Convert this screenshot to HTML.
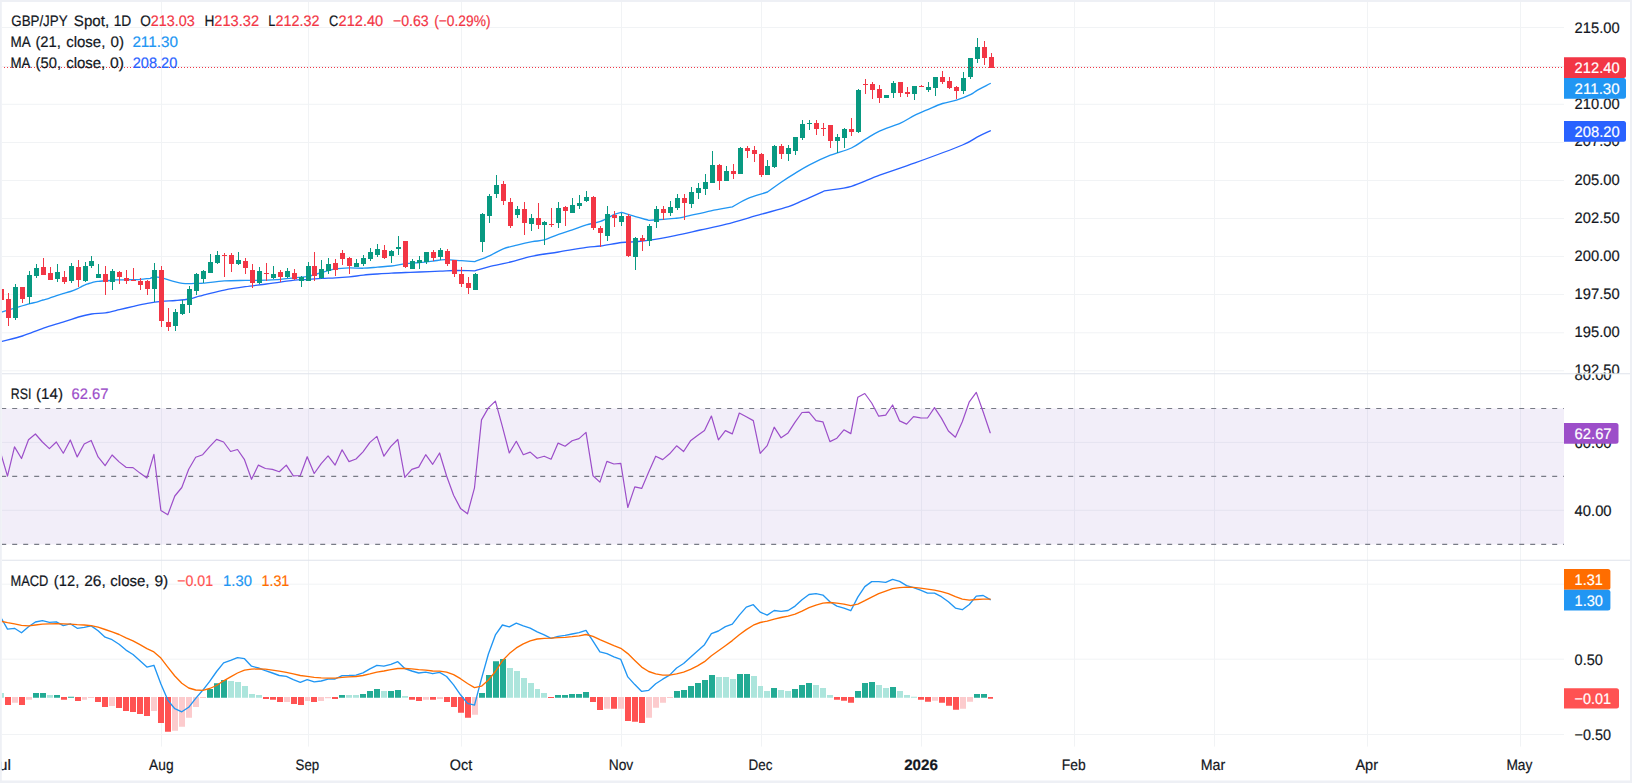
<!DOCTYPE html>
<html lang="en">
<head>
<meta charset="utf-8">
<title>GBP/JPY Spot, 1D</title>
<style>
html,body{margin:0;padding:0;background:#ffffff;}
body{width:1632px;height:783px;overflow:hidden;}
svg{display:block;}
</style>
</head>
<body>
<svg width="1632" height="783" viewBox="0 0 1632 783" font-family='"Liberation Sans", Arial, sans-serif' font-size="15.2" text-rendering="geometricPrecision">
<rect x="0" y="0" width="1632" height="783" fill="#ffffff"/>
<path d="M161.5 2V746.6M308.5 2V746.6M461.5 2V746.6M621.5 2V746.6M761.5 2V746.6M921.5 2V746.6M1074.5 2V746.6M1214.5 2V746.6M1367.5 2V746.6M1520.5 2V746.6M2 27.5H1564M2 66.5H1564M2 104.3H1564M2 142.5H1564M2 180.5H1564M2 218.5H1564M2 256.5H1564M2 294.5H1564M2 332.8H1564M2 370.8H1564M2 442.4H1564M2 510.3H1564M2 584.2H1564M2 659.2H1564M2 734.5H1564" stroke="#f1f3f5" stroke-width="1" fill="none"/>
<rect x="2" y="408.5" width="1562" height="135.89999999999998" fill="#7e57c2" fill-opacity="0.1"/>
<path d="M2 408.5H1564" stroke="#787b86" stroke-width="1.1" stroke-dasharray="5 6" stroke-dashoffset="0.8" fill="none"/>
<path d="M2 476.4H1564" stroke="#787b86" stroke-width="1.1" stroke-dasharray="5 6" stroke-dashoffset="0.8" fill="none"/>
<path d="M2 544.4H1564" stroke="#787b86" stroke-width="1.1" stroke-dasharray="5 6" stroke-dashoffset="0.8" fill="none"/>
<path d="M2 373.8H1630M2 560.3H1630" stroke="#e0e3eb" stroke-width="1.1" fill="none"/>
<defs><clipPath id="cm"><rect x="1.75" y="1.75" width="1562.25" height="371.5"/></clipPath><clipPath id="cr"><rect x="1.75" y="374.4" width="1562.25" height="185.4"/></clipPath><clipPath id="cd"><rect x="1.75" y="560.9" width="1562.25" height="186"/></clipPath><clipPath id="am"><rect x="1564" y="1.75" width="66" height="371.5"/></clipPath><clipPath id="ar"><rect x="1564" y="374.4" width="66" height="185.4"/></clipPath><clipPath id="ad"><rect x="1564" y="560.9" width="66" height="186"/></clipPath></defs>
<g clip-path="url(#cm)">
<path d="M0.0 312.7C2.7 311.9 5.0 311.1 8.0 310.2C11.0 309.3 14.4 308.2 18.0 307.1C21.6 306.0 26.8 304.4 29.9 303.6C33.0 302.8 34.6 302.7 36.8 302.1C39.0 301.5 40.9 300.6 42.9 300.0C44.9 299.4 46.8 299.0 49.0 298.3C51.2 297.6 53.6 296.6 55.9 295.8C58.2 295.0 60.4 294.4 62.8 293.7C65.2 293.0 68.2 292.3 70.5 291.5C72.8 290.7 74.8 289.9 76.6 289.1C78.4 288.3 79.8 287.5 81.2 286.8C82.6 286.1 83.8 285.4 85.1 284.9C86.4 284.3 87.8 283.9 88.9 283.5C90.1 283.1 90.8 282.9 92.0 282.6C93.2 282.3 94.6 281.8 95.8 281.6C97.0 281.4 97.8 281.4 98.9 281.3C100.1 281.2 100.8 281.1 102.7 281.0C104.6 280.9 108.3 280.7 110.3 280.5C112.3 280.3 112.2 280.0 114.9 279.9C117.6 279.8 122.2 279.9 126.4 279.8C130.7 279.7 136.4 279.6 140.4 279.3C144.4 279.1 146.9 278.6 150.2 278.3C151.6 277.8 153.1 277.2 154.5 276.7C156.8 277.1 159.1 277.3 161.4 277.8C163.7 278.3 166.1 279.1 168.4 279.8C170.8 280.5 173.2 281.2 175.5 281.8C177.8 282.4 180.1 283.0 182.4 283.3C184.7 283.6 187.1 283.6 189.4 283.6C191.8 283.6 194.2 283.4 196.5 283.3C198.8 283.2 198.7 283.6 203.3 283.2C207.9 282.8 217.3 281.4 224.3 280.9C231.3 280.4 238.3 280.5 245.3 280.4C252.3 280.3 260.5 280.3 266.3 280.1C272.1 279.9 275.7 279.8 280.4 279.4C285.1 279.0 289.8 278.3 294.4 277.8C299.0 277.3 303.8 277.2 308.3 276.3C312.8 275.4 317.0 273.7 321.5 272.5C326.0 271.3 330.7 269.7 335.4 268.9C340.1 268.1 344.8 268.0 349.5 267.9C354.2 267.8 358.9 268.3 363.5 268.2C368.1 268.1 372.8 267.5 377.4 267.1C382.0 266.7 386.7 266.6 391.4 266.0C396.1 265.4 400.8 264.3 405.5 263.7C410.2 263.1 414.8 262.9 419.4 262.5C424.0 262.1 429.1 261.5 433.4 261.0C437.6 260.5 440.2 259.8 444.9 259.7C449.6 259.6 456.5 260.4 461.5 260.7C466.5 261.0 470.4 261.3 474.8 261.6C479.7 259.7 484.7 257.9 489.4 255.8C494.1 253.7 498.6 250.7 503.2 248.9C507.8 247.1 512.1 246.3 517.0 245.1C521.9 243.9 527.7 242.6 532.3 241.7C536.9 240.8 540.0 241.1 544.4 239.9C548.8 238.7 553.8 236.1 558.5 234.4C563.2 232.7 567.8 231.4 572.4 229.8C577.0 228.2 581.7 226.3 586.4 224.9C591.1 223.5 595.8 223.1 600.5 221.3C605.2 219.6 610.9 215.9 614.4 214.4C617.9 212.9 619.1 213.0 621.5 212.3C626.1 213.8 630.9 215.4 635.4 216.7C639.9 218.0 644.3 219.1 648.8 220.3C653.7 220.0 659.1 219.6 663.5 219.3C667.9 219.0 671.5 218.8 675.0 218.4C678.5 218.0 678.5 218.1 684.5 216.8C690.5 215.5 703.0 212.5 711.0 210.8C719.0 209.2 725.3 208.2 732.4 206.9C737.4 204.1 741.6 201.1 747.5 198.6C753.4 196.1 760.8 194.2 767.5 192.0C772.2 188.7 776.9 185.2 781.5 182.0C786.1 178.8 790.7 175.9 795.4 173.1C800.1 170.2 803.7 167.9 809.5 164.9C815.3 161.9 823.4 158.0 830.4 155.2C837.4 152.4 845.5 150.7 851.4 148.0C857.3 145.3 860.9 142.0 865.6 139.2C870.3 136.4 873.7 133.8 879.5 131.1C885.3 128.4 894.7 125.7 900.5 123.1C906.3 120.5 909.9 117.7 914.5 115.4C919.1 113.1 923.7 111.3 928.4 109.3C933.1 107.3 937.8 105.0 942.5 103.5C947.2 102.0 951.9 101.6 956.5 100.1C961.1 98.6 966.9 96.4 970.4 94.7C973.9 93.0 974.2 92.0 977.5 90.1C980.8 88.2 986.0 85.7 990.3 83.5" stroke="#2196f3" stroke-width="1.35" fill="none" stroke-linejoin="round" stroke-linecap="round"/>
<path d="M0.0 341.9C7.5 339.9 15.1 338.3 22.4 336.0C29.6 333.7 36.5 330.5 43.5 328.1C50.5 325.7 58.6 323.5 64.4 321.6C70.2 319.8 74.0 318.3 78.5 317.0C83.0 315.7 87.0 314.7 91.5 314.0C96.0 313.3 100.8 313.5 105.4 312.8C110.1 312.1 114.7 310.8 119.4 309.7C124.1 308.6 128.8 307.4 133.5 306.3C138.2 305.2 142.8 304.1 147.4 303.3C152.1 302.5 156.7 301.8 161.4 301.3C166.1 300.8 170.8 300.9 175.5 300.5C180.2 300.1 185.5 299.7 189.4 299.0C193.3 298.3 196.5 296.9 199.2 296.2C201.8 295.5 201.1 295.7 205.3 294.7C209.5 293.7 217.6 291.4 224.3 290.1C231.0 288.8 238.3 287.7 245.3 286.7C252.3 285.7 260.5 284.8 266.3 284.0C272.1 283.2 275.7 282.8 280.4 282.1C285.1 281.5 289.8 280.6 294.4 280.1C299.0 279.7 303.8 279.7 308.3 279.4C312.8 279.1 317.0 278.7 321.5 278.4C326.0 278.1 330.7 278.1 335.4 277.8C340.1 277.6 344.8 277.3 349.5 276.9C354.2 276.4 358.9 275.6 363.5 275.1C368.1 274.6 372.8 274.3 377.4 274.0C382.0 273.7 386.7 273.4 391.4 273.2C396.1 272.9 400.8 272.7 405.5 272.5C410.2 272.3 413.6 272.2 419.4 272.0C425.1 271.8 434.2 271.4 440.0 271.1C445.8 270.9 448.6 270.6 454.4 270.5C460.2 270.4 468.0 270.7 474.8 270.8C479.7 269.4 483.5 268.1 489.4 266.6C495.3 265.1 503.4 263.7 510.4 262.0C517.4 260.3 523.4 258.0 531.4 256.3C539.4 254.6 549.3 253.5 558.5 252.0C567.7 250.5 579.4 248.4 586.4 247.4C593.4 246.4 594.6 246.8 600.5 246.0C606.4 245.2 615.7 243.2 621.5 242.5C627.3 241.8 630.7 242.1 635.4 241.7C640.1 241.3 642.9 241.2 649.5 240.2C656.1 239.2 666.5 237.3 675.0 235.6C683.5 233.9 691.7 231.9 700.2 230.0C708.8 228.1 716.1 226.8 726.3 224.2C736.5 221.6 751.0 217.1 761.4 214.2C771.8 211.3 781.6 208.8 788.5 206.6C795.4 204.3 796.5 203.3 802.5 200.7C808.5 198.1 817.1 194.2 824.4 190.9C833.4 189.4 842.2 188.9 851.4 186.3C860.6 183.7 869.0 179.0 879.6 175.1C890.2 171.2 901.2 167.9 915.0 162.9C928.8 157.9 952.1 149.3 962.5 145.0C972.9 140.7 972.9 139.3 977.5 136.9C982.1 134.5 986.0 132.8 990.3 130.8" stroke="#2962ff" stroke-width="1.35" fill="none" stroke-linejoin="round" stroke-linecap="round"/>
<path d="M15 284h1V320h-1zM29 271h1V304h-1zM36 264h1V278h-1zM57 264h1V282h-1zM71 263h1V283h-1zM85 262h1V282h-1zM91 256h1V268h-1zM98 264h1V278h-1zM112 269h1V290h-1zM154 263h1V302h-1zM175 309h1V331h-1zM182 300h1V315h-1zM189 286h1V313h-1zM196 273h1V295h-1zM203 270h1V283h-1zM210 254h1V273h-1zM217 251h1V264h-1zM238 252h1V265h-1zM259 267h1V284h-1zM273 266h1V279h-1zM287 268h1V278h-1zM301 276h1V287h-1zM308 262h1V281h-1zM321 260h1V279h-1zM328 258h1V274h-1zM356 259h1V267h-1zM363 255h1V266h-1zM370 248h1V261h-1zM377 244h1V257h-1zM391 250h1V263h-1zM398 236h1V255h-1zM412 259h1V269h-1zM419 256h1V269h-1zM426 252h1V264h-1zM440 248h1V260h-1zM475 273h1V290h-1zM482 213h1V252h-1zM489 194h1V223h-1zM496 175h1V198h-1zM517 206h1V218h-1zM531 214h1V231h-1zM544 221h1V245h-1zM558 202h1V228h-1zM572 198h1V213h-1zM579 195h1V209h-1zM586 191h1V202h-1zM607 206h1V241h-1zM621 213h1V226h-1zM635 237h1V270h-1zM649 224h1V246h-1zM656 206h1V228h-1zM670 201h1V216h-1zM677 194h1V210h-1zM691 187h1V208h-1zM698 183h1V199h-1zM705 174h1V195h-1zM712 151h1V183h-1zM726 166h1V181h-1zM740 147h1V174h-1zM767 160h1V175h-1zM774 145h1V168h-1zM788 145h1V161h-1zM795 137h1V155h-1zM802 120h1V140h-1zM809 120h1V130h-1zM837 134h1V153h-1zM844 128h1V148h-1zM858 89h1V133h-1zM886 95h1V98h-1zM893 81h1V98h-1zM914 86h1V100h-1zM928 82h1V92h-1zM935 77h1V96h-1zM963 72h1V94h-1zM970 58h1V79h-1zM977 38h1V63h-1zM13 287h5V318h-5zM27 275h5V297h-5zM34 268h5V276h-5zM55 272h5V279h-5zM69 266h5V281h-5zM83 266h5V281h-5zM89 261h5V266h-5zM96 274h5V278h-5zM110 271h5V282h-5zM152 270h5V289h-5zM173 312h5V326h-5zM180 304h5V314h-5zM187 289h5V305h-5zM194 274h5V291h-5zM201 271h5V279h-5zM208 262h5V273h-5zM215 255h5V263h-5zM236 260h5V264h-5zM257 271h5V283h-5zM271 274h5V278h-5zM285 271h5V277h-5zM299 277h5V281h-5zM306 266h5V281h-5zM319 269h5V278h-5zM326 264h5V271h-5zM354 263h5V267h-5zM361 258h5V264h-5zM368 252h5V259h-5zM375 249h5V255h-5zM389 251h5V256h-5zM396 247h5V249h-5zM410 261h5V269h-5zM417 260h5V263h-5zM424 252h5V262h-5zM438 250h5V257h-5zM473 274h5V290h-5zM480 214h5V242h-5zM487 196h5V216h-5zM494 185h5V194h-5zM515 209h5V215h-5zM529 218h5V224h-5zM542 222h5V225h-5zM556 208h5V223h-5zM570 205h5V213h-5zM577 203h5V206h-5zM584 197h5V201h-5zM605 214h5V236h-5zM619 216h5V222h-5zM633 238h5V257h-5zM647 226h5V241h-5zM654 209h5V222h-5zM668 207h5V213h-5zM675 198h5V208h-5zM689 192h5V204h-5zM696 188h5V193h-5zM703 182h5V189h-5zM710 165h5V183h-5zM724 171h5V181h-5zM738 148h5V174h-5zM765 166h5V175h-5zM772 146h5V167h-5zM786 148h5V154h-5zM793 137h5V151h-5zM800 124h5V138h-5zM807 123h5V124h-5zM835 137h5V141h-5zM842 129h5V138h-5zM856 90h5V132h-5zM884 95h5V98h-5zM891 83h5V93h-5zM912 86h5V94h-5zM926 87h5V90h-5zM933 77h5V88h-5zM961 78h5V91h-5zM968 58h5V77h-5zM975 47h5V59h-5z" fill="#089981" shape-rendering="crispEdges"/>
<path d="M1 289h1V312h-1zM8 293h1V326h-1zM22 287h1V303h-1zM43 258h1V275h-1zM50 267h1V280h-1zM64 271h1V284h-1zM78 260h1V287h-1zM105 266h1V295h-1zM119 271h1V284h-1zM126 270h1V284h-1zM133 268h1V281h-1zM140 278h1V290h-1zM147 280h1V295h-1zM161 266h1V327h-1zM168 308h1V331h-1zM224 253h1V277h-1zM231 253h1V272h-1zM245 258h1V274h-1zM252 264h1V288h-1zM266 263h1V281h-1zM280 270h1V282h-1zM294 269h1V280h-1zM314 252h1V281h-1zM335 259h1V276h-1zM342 250h1V265h-1zM349 257h1V274h-1zM384 245h1V259h-1zM405 241h1V268h-1zM433 250h1V261h-1zM447 249h1V266h-1zM454 260h1V277h-1zM461 267h1V287h-1zM468 277h1V294h-1zM503 181h1V205h-1zM510 198h1V228h-1zM524 202h1V235h-1zM538 203h1V229h-1zM551 208h1V227h-1zM565 206h1V226h-1zM593 196h1V230h-1zM600 226h1V247h-1zM614 211h1V227h-1zM628 214h1V257h-1zM642 235h1V251h-1zM663 206h1V220h-1zM684 194h1V220h-1zM719 164h1V190h-1zM733 164h1V179h-1zM747 146h1V158h-1zM754 146h1V162h-1zM761 153h1V177h-1zM781 144h1V159h-1zM816 120h1V135h-1zM823 123h1V136h-1zM830 125h1V148h-1zM851 118h1V136h-1zM865 79h1V94h-1zM872 82h1V99h-1zM879 85h1V103h-1zM900 82h1V97h-1zM907 87h1V97h-1zM921 85h1V87h-1zM942 71h1V84h-1zM949 77h1V89h-1zM956 86h1V99h-1zM984 41h1V65h-1zM991 53h1V68h-1zM-1 289h5V300h-5zM6 299h5V318h-5zM20 287h5V299h-5zM41 267h5V275h-5zM48 273h5V280h-5zM62 277h5V282h-5zM76 267h5V280h-5zM103 274h5V282h-5zM117 272h5V277h-5zM124 278h5V281h-5zM131 280h5V281h-5zM138 281h5V285h-5zM145 281h5V289h-5zM159 270h5V321h-5zM166 322h5V327h-5zM222 255h5V256h-5zM229 255h5V264h-5zM243 261h5V268h-5zM250 270h5V283h-5zM264 273h5V274h-5zM278 272h5V277h-5zM292 273h5V279h-5zM312 266h5V276h-5zM333 263h5V270h-5zM340 253h5V259h-5zM347 258h5V266h-5zM382 250h5V258h-5zM403 241h5V267h-5zM431 252h5V258h-5zM445 251h5V264h-5zM452 260h5V274h-5zM459 274h5V284h-5zM466 283h5V288h-5zM501 184h5V201h-5zM508 202h5V226h-5zM522 209h5V223h-5zM536 218h5V225h-5zM549 224h5V225h-5zM563 207h5V211h-5zM591 197h5V228h-5zM598 228h5V233h-5zM612 215h5V218h-5zM626 216h5V256h-5zM640 238h5V241h-5zM661 209h5V213h-5zM682 198h5V203h-5zM717 165h5V181h-5zM731 171h5V174h-5zM745 148h5V151h-5zM752 150h5V154h-5zM759 154h5V175h-5zM779 146h5V154h-5zM814 123h5V129h-5zM821 128h5V129h-5zM828 125h5V141h-5zM849 129h5V132h-5zM863 84h5V85h-5zM870 84h5V90h-5zM877 89h5V98h-5zM898 82h5V93h-5zM905 92h5V94h-5zM919 86h5V87h-5zM940 77h5V82h-5zM947 81h5V88h-5zM954 87h5V91h-5zM982 47h5V58h-5zM989 57h5V68h-5z" fill="#f23645" shape-rendering="crispEdges"/>
<path d="M1 67.5H1564" stroke="#f23645" stroke-width="1" stroke-dasharray="1 2" fill="none"/>
</g>
<g clip-path="url(#cr)">
<path d="M0.6 452.7L7.5 476.2L14.5 446.9L21.5 458.5L28.5 439.7L35.4 434.0L42.4 442.0L49.4 448.6L56.3 442.0L63.3 453.2L70.3 440.0L77.2 456.9L84.2 444.0L91.2 440.5L98.1 456.9L105.1 465.7L112.1 455.0L119.1 461.9L126.0 467.3L133.0 467.6L140.0 473.1L146.9 478.0L153.9 454.3L160.9 510.5L167.8 514.8L174.8 496.0L181.8 487.5L188.7 469.2L195.7 457.3L202.7 454.7L209.7 446.6L216.6 439.4L223.6 442.0L230.6 451.5L237.5 449.5L244.5 459.7L251.5 479.3L258.4 465.1L265.4 468.5L272.4 469.4L279.3 471.7L286.3 465.1L293.3 475.8L300.3 475.5L307.2 456.7L314.2 473.5L321.2 463.6L328.1 455.9L335.1 465.1L342.1 449.8L349.0 461.6L356.0 459.0L363.0 451.8L369.9 442.4L376.9 436.4L383.9 456.2L390.9 446.4L397.8 439.5L404.8 477.4L411.8 469.4L418.7 467.1L425.7 454.7L432.7 464.3L439.6 453.0L446.6 476.0L453.6 495.3L460.5 508.4L467.5 513.8L474.5 487.8L481.5 419.9L488.4 407.9L495.4 401.1L502.4 426.7L509.3 453.0L516.3 441.3L523.3 454.7L530.2 452.1L537.2 458.3L544.2 456.2L551.1 459.2L558.1 443.1L565.1 446.2L572.1 440.8L579.0 438.6L586.0 432.4L593.0 475.8L599.9 482.1L606.9 461.4L613.9 464.0L620.8 463.3L627.8 507.5L634.8 486.9L641.7 488.4L648.7 472.1L655.7 456.2L662.7 459.6L669.6 453.8L676.6 445.8L683.6 451.5L690.5 440.8L697.5 435.5L704.5 430.6L711.4 416.0L718.4 439.8L725.4 430.6L732.3 433.9L739.3 413.0L746.3 416.8L753.3 420.6L760.2 453.3L767.2 445.6L774.2 427.2L781.1 437.8L788.1 432.9L795.1 422.1L802.0 412.5L809.0 412.2L816.0 420.6L822.9 421.8L829.9 441.6L836.9 438.2L843.9 429.8L850.8 433.6L857.8 397.3L864.8 393.5L871.7 403.0L878.7 416.2L885.7 415.2L892.6 405.0L899.6 420.9L906.6 424.1L913.5 416.7L920.5 417.8L927.5 418.0L934.5 407.6L941.4 418.1L948.4 431.0L955.4 437.2L962.3 421.8L969.3 401.8L976.3 392.4L983.2 412.0L990.2 432.8" stroke="#9c4ec9" stroke-width="1.2" fill="none" stroke-linejoin="round" stroke-linecap="round" />
</g>
<g clip-path="url(#cd)">
<path d="M33 693.0h6V697.8h-6zM40 693.0h6V697.8h-6zM54 695.1h6V697.8h-6zM68 696.7h6V697.8h-6zM207 689.1h6V697.8h-6zM214 683.2h6V697.8h-6zM221 680.1h6V697.8h-6zM339 695.1h6V697.8h-6zM360 693.9h6V697.8h-6zM367 691.0h6V697.8h-6zM374 689.1h6V697.8h-6zM388 691.0h6V697.8h-6zM395 690.0h6V697.8h-6zM479 693.0h6V697.8h-6zM486 675.1h6V697.8h-6zM493 661.2h6V697.8h-6zM500 659.0h6V697.8h-6zM555 695.1h6V697.8h-6zM562 695.1h6V697.8h-6zM569 694.1h6V697.8h-6zM576 694.1h6V697.8h-6zM583 692.1h6V697.8h-6zM674 691.0h6V697.8h-6zM681 690.0h6V697.8h-6zM688 686.0h6V697.8h-6zM695 683.0h6V697.8h-6zM702 679.9h6V697.8h-6zM709 675.1h6V697.8h-6zM737 673.9h6V697.8h-6zM744 673.9h6V697.8h-6zM771 687.9h6V697.8h-6zM792 688.9h6V697.8h-6zM799 684.9h6V697.8h-6zM806 682.9h6V697.8h-6zM855 690.9h6V697.8h-6zM862 682.9h6V697.8h-6zM869 681.9h6V697.8h-6zM890 686.9h6V697.8h-6zM974 693.9h6V697.8h-6zM981 693.9h6V697.8h-6z" fill="#22ab94"/>
<path d="M-2 693.0h6V697.8h-6zM47 695.1h6V697.8h-6zM228 681.0h6V697.8h-6zM235 682.1h6V697.8h-6zM242 686.0h6V697.8h-6zM249 693.9h6V697.8h-6zM256 695.1h6V697.8h-6zM346 695.1h6V697.8h-6zM353 695.1h6V697.8h-6zM381 691.0h6V697.8h-6zM402 696.0h6V697.8h-6zM507 668.0h6V697.8h-6zM514 671.0h6V697.8h-6zM521 678.0h6V697.8h-6zM528 683.0h6V697.8h-6zM535 689.1h5V697.8h-5zM541 693.0h6V697.8h-6zM716 676.9h6V697.8h-6zM723 676.9h6V697.8h-6zM730 678.9h6V697.8h-6zM751 675.9h6V697.8h-6zM758 685.9h5V697.8h-5zM764 690.9h6V697.8h-6zM778 689.9h6V697.8h-6zM785 690.9h6V697.8h-6zM813 684.9h6V697.8h-6zM820 687.9h6V697.8h-6zM827 694.9h6V697.8h-6zM876 684.9h6V697.8h-6zM883 687.9h6V697.8h-6zM897 690.9h6V697.8h-6zM904 694.9h6V697.8h-6zM911 696.8h6V697.8h-6z" fill="#ace5dc"/>
<path d="M5 697.1h6V705.0h-6zM19 697.1h6V705.0h-6zM61 697.1h6V699.8h-6zM75 697.1h6V701.0h-6zM95 697.1h6V701.9h-6zM102 697.1h6V706.9h-6zM116 697.1h6V708.0h-6zM123 697.1h6V710.9h-6zM130 697.1h6V711.9h-6zM137 697.1h6V713.9h-6zM144 697.1h6V715.9h-6zM158 697.1h6V722.9h-6zM165 697.1h6V731.8h-6zM263 697.1h6V698.9h-6zM270 697.1h6V699.8h-6zM277 697.1h6V701.9h-6zM291 697.1h6V703.9h-6zM298 697.1h6V705.0h-6zM311 697.1h6V701.9h-6zM332 697.1h6V698.9h-6zM409 697.1h6V699.8h-6zM416 697.1h6V701.0h-6zM430 697.1h6V699.8h-6zM444 697.1h6V701.9h-6zM451 697.1h6V706.9h-6zM458 697.1h6V712.8h-6zM465 697.1h6V717.8h-6zM548 697.1h6V698.1h-6zM590 697.1h6V701.9h-6zM597 697.1h6V710.0h-6zM611 697.1h6V708.7h-6zM625 697.1h6V720.9h-6zM632 697.1h6V721.8h-6zM639 697.1h6V722.9h-6zM834 697.1h6V699.8h-6zM841 697.1h6V700.8h-6zM848 697.1h6V702.8h-6zM918 697.1h6V699.8h-6zM925 697.1h6V701.8h-6zM939 697.1h6V702.8h-6zM946 697.1h6V705.8h-6zM953 697.1h6V709.8h-6zM988 697.1h5V698.8h-5z" fill="#ff5252"/>
<path d="M12 697.1h6V702.8h-6zM26 697.1h6V699.8h-6zM82 697.1h5V699.8h-5zM88 697.1h6V698.1h-6zM109 697.1h6V705.9h-6zM151 697.1h6V710.9h-6zM172 697.1h6V730.7h-6zM179 697.1h6V726.8h-6zM186 697.1h6V717.8h-6zM193 697.1h6V706.9h-6zM200 697.1h6V698.1h-6zM284 697.1h6V701.9h-6zM305 697.1h5V701.0h-5zM318 697.1h6V701.0h-6zM325 697.1h6V698.2h-6zM423 697.1h6V699.8h-6zM437 697.1h6V698.9h-6zM472 697.1h6V714.8h-6zM604 697.1h6V708.7h-6zM618 697.1h6V708.7h-6zM646 697.1h6V717.8h-6zM653 697.1h6V707.8h-6zM660 697.1h6V702.8h-6zM667 697.1h6V698.1h-6zM932 697.1h6V700.8h-6zM960 697.1h6V708.8h-6zM967 697.1h6V701.8h-6z" fill="#fccbcd"/>
<path d="M0.6 617.0L7.5 629.1L14.5 628.3L21.5 632.7L28.5 626.8L35.4 622.0L42.4 620.6L49.4 622.4L56.3 621.8L63.3 625.6L70.3 623.8L77.2 628.3L84.2 627.4L91.2 625.9L98.1 630.8L105.1 637.2L112.1 639.7L119.1 644.3L126.0 650.1L133.0 654.5L140.0 660.8L146.9 667.1L153.9 665.3L160.9 684.0L167.8 700.1L174.8 708.7L181.8 711.8L188.7 707.3L195.7 698.4L202.7 690.3L209.7 681.4L216.6 671.5L223.6 662.9L230.6 660.4L237.5 657.6L244.5 658.7L251.5 666.2L258.4 668.0L265.4 670.6L272.4 673.0L279.3 675.5L286.3 676.4L293.3 679.6L300.3 682.3L307.2 679.6L314.2 681.9L321.2 681.0L328.1 679.2L335.1 679.0L342.1 675.6L349.0 675.5L356.0 675.1L363.0 672.8L369.9 668.8L376.9 665.3L383.9 666.2L390.9 664.4L397.8 661.7L404.8 668.5L411.8 671.0L418.7 673.0L425.7 672.1L432.7 673.7L439.6 672.4L446.6 676.5L453.6 684.9L460.5 694.8L467.5 703.4L474.5 705.1L481.5 678.7L488.4 654.0L495.4 634.9L502.4 625.0L509.3 626.8L516.3 623.2L523.3 625.9L530.2 628.1L537.2 631.8L544.2 634.9L551.1 638.4L558.1 636.3L565.1 635.4L572.1 634.0L579.0 632.7L586.0 630.4L593.0 641.1L599.9 651.9L606.9 653.6L613.9 656.9L620.8 659.4L627.8 676.9L634.8 684.6L641.7 691.4L648.7 690.3L655.7 683.7L662.7 679.2L669.6 675.1L676.6 668.0L683.6 663.5L690.5 657.2L697.5 651.0L704.5 644.7L711.4 633.6L718.4 631.0L725.4 626.7L732.3 624.2L739.3 615.1L746.3 607.1L753.3 604.7L760.2 612.1L767.2 615.1L774.2 610.5L781.1 611.3L788.1 610.5L795.1 606.1L802.0 599.7L809.0 594.5L816.0 593.7L822.9 595.1L829.9 601.7L836.9 606.1L843.9 608.1L850.8 610.7L857.8 597.1L864.8 586.6L871.7 581.6L878.7 581.6L885.7 582.4L892.6 579.4L899.6 581.4L906.6 585.6L913.5 587.6L920.5 590.1L927.5 593.1L934.5 593.1L941.4 596.7L948.4 601.7L955.4 608.1L962.3 609.7L969.3 604.5L976.3 596.1L983.2 595.5L990.2 599.7" stroke="#2196f3" stroke-width="1.35" fill="none" stroke-linejoin="round" stroke-linecap="round" />
<path d="M0.6 621.1L7.5 622.7L14.5 623.8L21.5 625.4L28.5 625.9L35.4 625.0L42.4 624.1L49.4 623.8L56.3 623.6L63.3 623.8L70.3 624.1L77.2 624.7L84.2 625.0L91.2 625.6L98.1 627.2L105.1 629.5L112.1 631.8L119.1 634.5L126.0 637.9L133.0 640.8L140.0 644.7L146.9 648.6L153.9 651.9L160.9 658.1L167.8 667.1L174.8 676.0L181.8 683.2L188.7 688.0L195.7 690.0L202.7 690.3L209.7 688.5L216.6 685.5L223.6 680.8L230.6 676.9L237.5 673.0L244.5 670.1L251.5 669.2L258.4 668.8L265.4 669.2L272.4 670.1L279.3 671.2L286.3 672.4L293.3 673.9L300.3 675.5L307.2 676.4L314.2 677.3L321.2 677.8L328.1 678.1L335.1 678.1L342.1 677.4L349.0 676.9L356.0 676.5L363.0 675.5L369.9 673.9L376.9 672.1L383.9 671.0L390.9 669.7L397.8 668.5L404.8 668.3L411.8 668.8L418.7 669.7L425.7 670.1L432.7 671.0L439.6 671.2L446.6 672.1L453.6 674.6L460.5 678.7L467.5 683.5L474.5 687.6L481.5 686.2L488.4 680.0L495.4 671.5L502.4 660.8L509.3 653.6L516.3 647.9L523.3 643.8L530.2 640.8L537.2 639.0L544.2 638.3L551.1 638.1L558.1 637.7L565.1 637.4L572.1 636.7L579.0 635.8L586.0 634.5L593.0 636.3L599.9 639.7L606.9 642.6L613.9 645.6L620.8 648.3L627.8 653.6L634.8 660.4L641.7 667.1L648.7 671.5L655.7 673.9L662.7 675.1L669.6 675.1L676.6 673.9L683.6 672.1L690.5 669.4L697.5 665.8L704.5 661.7L711.4 655.8L718.4 650.8L725.4 645.7L732.3 640.6L739.3 634.8L746.3 629.6L753.3 625.2L760.2 622.5L767.2 621.1L774.2 619.1L781.1 617.5L788.1 616.1L795.1 614.1L802.0 611.1L809.0 607.7L816.0 605.1L822.9 603.1L829.9 602.5L836.9 603.1L843.9 604.1L850.8 605.7L857.8 604.1L864.8 600.7L871.7 597.1L878.7 593.7L885.7 591.1L892.6 588.7L899.6 587.6L906.6 587.2L913.5 587.4L920.5 588.1L927.5 589.1L934.5 590.1L941.4 591.7L948.4 593.7L955.4 596.7L962.3 599.1L969.3 600.1L976.3 599.5L983.2 599.1L990.2 599.1" stroke="#ff6d00" stroke-width="1.35" fill="none" stroke-linejoin="round" stroke-linecap="round" />
</g>
<g clip-path="url(#am)">
<text x="1574.6" y="32.9" fill="#131722" stroke="#131722" stroke-width="0.2" textLength="45.0" lengthAdjust="spacingAndGlyphs">215.00</text>
<text x="1574.6" y="71.2" fill="#131722" stroke="#131722" stroke-width="0.2" textLength="45.0" lengthAdjust="spacingAndGlyphs">212.50</text>
<text x="1574.6" y="109.3" fill="#131722" stroke="#131722" stroke-width="0.2" textLength="45.0" lengthAdjust="spacingAndGlyphs">210.00</text>
<text x="1574.6" y="146.3" fill="#131722" stroke="#131722" stroke-width="0.2" textLength="45.0" lengthAdjust="spacingAndGlyphs">207.50</text>
<text x="1574.6" y="184.7" fill="#131722" stroke="#131722" stroke-width="0.2" textLength="45.0" lengthAdjust="spacingAndGlyphs">205.00</text>
<text x="1574.6" y="222.9" fill="#131722" stroke="#131722" stroke-width="0.2" textLength="45.0" lengthAdjust="spacingAndGlyphs">202.50</text>
<text x="1574.6" y="260.8" fill="#131722" stroke="#131722" stroke-width="0.2" textLength="45.0" lengthAdjust="spacingAndGlyphs">200.00</text>
<text x="1574.6" y="298.7" fill="#131722" stroke="#131722" stroke-width="0.2" textLength="45.0" lengthAdjust="spacingAndGlyphs">197.50</text>
<text x="1574.6" y="337.0" fill="#131722" stroke="#131722" stroke-width="0.2" textLength="45.0" lengthAdjust="spacingAndGlyphs">195.00</text>
<text x="1574.6" y="375.3" fill="#131722" stroke="#131722" stroke-width="0.2" textLength="45.0" lengthAdjust="spacingAndGlyphs">192.50</text>
</g>
<g clip-path="url(#ar)">
<text x="1574.6" y="380.1" fill="#131722" stroke="#131722" stroke-width="0.2" textLength="37.0" lengthAdjust="spacingAndGlyphs">80.00</text>
<text x="1574.6" y="447.8" fill="#131722" stroke="#131722" stroke-width="0.2" textLength="37.0" lengthAdjust="spacingAndGlyphs">60.00</text>
<text x="1574.6" y="515.7" fill="#131722" stroke="#131722" stroke-width="0.2" textLength="37.0" lengthAdjust="spacingAndGlyphs">40.00</text>
</g>
<g clip-path="url(#ad)">
<text x="1574.6" y="664.6" fill="#131722" stroke="#131722" stroke-width="0.2" textLength="28.3" lengthAdjust="spacingAndGlyphs">0.50</text>
<text x="1574.6" y="739.9" fill="#131722" stroke="#131722" stroke-width="0.2" textLength="36.5" lengthAdjust="spacingAndGlyphs">−0.50</text>
</g>
<path d="M1564 57.2H1623.5Q1626 57.2 1626 59.7V75.5Q1626 78.0 1623.5 78.0H1564Z" fill="#f23645"/><text x="1574.6" y="73.0" fill="#ffffff" stroke="#ffffff" stroke-width="0.2" textLength="45.0" lengthAdjust="spacingAndGlyphs">212.40</text>
<path d="M1564 78.0H1623.5Q1626 78.0 1626 80.5V96.3Q1626 98.8 1623.5 98.8H1564Z" fill="#2196f3"/><text x="1574.6" y="93.8" fill="#ffffff" stroke="#ffffff" stroke-width="0.2" textLength="45.0" lengthAdjust="spacingAndGlyphs">211.30</text>
<path d="M1564 121.0H1623.5Q1626 121.0 1626 123.5V139.3Q1626 141.8 1623.5 141.8H1564Z" fill="#2962ff"/><text x="1574.6" y="136.8" fill="#ffffff" stroke="#ffffff" stroke-width="0.2" textLength="45.0" lengthAdjust="spacingAndGlyphs">208.20</text>
<path d="M1564 423.0H1616.0Q1618.5 423.0 1618.5 425.5V441.2Q1618.5 443.7 1616.0 443.7H1564Z" fill="#9c4ec9"/><text x="1574.6" y="438.8" fill="#ffffff" stroke="#ffffff" stroke-width="0.2" textLength="37.0" lengthAdjust="spacingAndGlyphs">62.67</text>
<path d="M1564 569.0H1607.9Q1610.4 569.0 1610.4 571.5V587.3Q1610.4 589.8 1607.9 589.8H1564Z" fill="#ff6d00"/><text x="1574.6" y="584.8" fill="#ffffff" stroke="#ffffff" stroke-width="0.2" textLength="28.3" lengthAdjust="spacingAndGlyphs">1.31</text>
<path d="M1564 589.8H1607.9Q1610.4 589.8 1610.4 592.3V608.1Q1610.4 610.6 1607.9 610.6H1564Z" fill="#2196f3"/><text x="1574.6" y="605.6" fill="#ffffff" stroke="#ffffff" stroke-width="0.2" textLength="28.3" lengthAdjust="spacingAndGlyphs">1.30</text>
<path d="M1564 688.3H1616.5Q1619 688.3 1619 690.8V706.1Q1619 708.6 1616.5 708.6H1564Z" fill="#ff5252"/><text x="1574.6" y="703.9" fill="#ffffff" stroke="#ffffff" stroke-width="0.2" textLength="36.5" lengthAdjust="spacingAndGlyphs">−0.01</text>
<text x="1.0" y="769.9" fill="#131722" stroke="#131722" stroke-width="0.2" text-anchor="middle" textLength="20" lengthAdjust="spacingAndGlyphs">Jul</text>
<text x="161.3" y="769.9" fill="#131722" stroke="#131722" stroke-width="0.2" text-anchor="middle" textLength="24.5" lengthAdjust="spacingAndGlyphs">Aug</text>
<text x="307.4" y="769.9" fill="#131722" stroke="#131722" stroke-width="0.2" text-anchor="middle" textLength="23.6" lengthAdjust="spacingAndGlyphs">Sep</text>
<text x="461.0" y="769.9" fill="#131722" stroke="#131722" stroke-width="0.2" text-anchor="middle" textLength="22.4" lengthAdjust="spacingAndGlyphs">Oct</text>
<text x="621.0" y="769.9" fill="#131722" stroke="#131722" stroke-width="0.2" text-anchor="middle" textLength="24.5" lengthAdjust="spacingAndGlyphs">Nov</text>
<text x="760.5" y="769.9" fill="#131722" stroke="#131722" stroke-width="0.2" text-anchor="middle" textLength="23.9" lengthAdjust="spacingAndGlyphs">Dec</text>
<text x="921.0" y="769.9" fill="#131722" stroke="#131722" stroke-width="0.2" text-anchor="middle" font-weight="bold" textLength="33.7" lengthAdjust="spacingAndGlyphs">2026</text>
<text x="1073.8" y="769.9" fill="#131722" stroke="#131722" stroke-width="0.2" text-anchor="middle" textLength="23.9" lengthAdjust="spacingAndGlyphs">Feb</text>
<text x="1213.0" y="769.9" fill="#131722" stroke="#131722" stroke-width="0.2" text-anchor="middle" textLength="24.5" lengthAdjust="spacingAndGlyphs">Mar</text>
<text x="1366.7" y="769.9" fill="#131722" stroke="#131722" stroke-width="0.2" text-anchor="middle" textLength="22.6" lengthAdjust="spacingAndGlyphs">Apr</text>
<text x="1519.4" y="769.9" fill="#131722" stroke="#131722" stroke-width="0.2" text-anchor="middle" textLength="26" lengthAdjust="spacingAndGlyphs">May</text>
<text x="11.27" y="25.7" fill="#131722" stroke="#131722" stroke-width="0.2" textLength="56.3" lengthAdjust="spacingAndGlyphs">GBP/JPY</text>
<text x="73.87" y="25.7" fill="#131722" stroke="#131722" stroke-width="0.2" textLength="35.3" lengthAdjust="spacingAndGlyphs">Spot,</text>
<text x="113.68" y="25.7" fill="#131722" stroke="#131722" stroke-width="0.2" textLength="17.6" lengthAdjust="spacingAndGlyphs">1D</text>
<text x="140.21" y="25.7" fill="#131722" stroke="#131722" stroke-width="0.2" textLength="10.6" lengthAdjust="spacingAndGlyphs">O</text>
<text x="150.85" y="25.7" fill="#f23645" stroke="#f23645" stroke-width="0.2" textLength="44.0" lengthAdjust="spacingAndGlyphs">213.03</text>
<text x="204.4" y="25.7" fill="#131722" stroke="#131722" stroke-width="0.2" textLength="9.9" lengthAdjust="spacingAndGlyphs">H</text>
<text x="214.33" y="25.7" fill="#f23645" stroke="#f23645" stroke-width="0.2" textLength="44.7" lengthAdjust="spacingAndGlyphs">213.32</text>
<text x="268.29" y="25.7" fill="#131722" stroke="#131722" stroke-width="0.2" textLength="7.1" lengthAdjust="spacingAndGlyphs">L</text>
<text x="275.58" y="25.7" fill="#f23645" stroke="#f23645" stroke-width="0.2" textLength="44.0" lengthAdjust="spacingAndGlyphs">212.32</text>
<text x="329.12" y="25.7" fill="#131722" stroke="#131722" stroke-width="0.2" textLength="9.2" lengthAdjust="spacingAndGlyphs">C</text>
<text x="338.62" y="25.7" fill="#f23645" stroke="#f23645" stroke-width="0.2" textLength="44.6" lengthAdjust="spacingAndGlyphs">212.40</text>
<text x="392.9" y="25.7" fill="#f23645" stroke="#f23645" stroke-width="0.2" textLength="35.8" lengthAdjust="spacingAndGlyphs">−0.63</text>
<text x="434.22" y="25.7" fill="#f23645" stroke="#f23645" stroke-width="0.2" textLength="56.3" lengthAdjust="spacingAndGlyphs">(−0.29%)</text>
<text x="10.46" y="46.7" fill="#131722" stroke="#131722" stroke-width="0.2" textLength="20.2" lengthAdjust="spacingAndGlyphs">MA</text>
<text x="35.4" y="46.7" fill="#131722" stroke="#131722" stroke-width="0.2" textLength="25.6" lengthAdjust="spacingAndGlyphs">(21,</text>
<text x="66.13" y="46.7" fill="#131722" stroke="#131722" stroke-width="0.2" textLength="39.2" lengthAdjust="spacingAndGlyphs">close,</text>
<text x="110.62" y="46.7" fill="#131722" stroke="#131722" stroke-width="0.2" textLength="13.5" lengthAdjust="spacingAndGlyphs">0)</text>
<text x="132.4" y="46.7" fill="#2196f3" stroke="#2196f3" stroke-width="0.2" textLength="45.5" lengthAdjust="spacingAndGlyphs">211.30</text>
<text x="10.43" y="67.5" fill="#131722" stroke="#131722" stroke-width="0.2" textLength="20.0" lengthAdjust="spacingAndGlyphs">MA</text>
<text x="35.61" y="67.5" fill="#131722" stroke="#131722" stroke-width="0.2" textLength="25.4" lengthAdjust="spacingAndGlyphs">(50,</text>
<text x="66.26" y="67.5" fill="#131722" stroke="#131722" stroke-width="0.2" textLength="39.0" lengthAdjust="spacingAndGlyphs">close,</text>
<text x="110.01" y="67.5" fill="#131722" stroke="#131722" stroke-width="0.2" textLength="14.0" lengthAdjust="spacingAndGlyphs">0)</text>
<text x="132.68" y="67.5" fill="#2962ff" stroke="#2962ff" stroke-width="0.2" textLength="44.6" lengthAdjust="spacingAndGlyphs">208.20</text>
<text x="10.78" y="398.7" fill="#131722" stroke="#131722" stroke-width="0.2" textLength="20.6" lengthAdjust="spacingAndGlyphs">RSI</text>
<text x="36.09" y="398.7" fill="#131722" stroke="#131722" stroke-width="0.2" textLength="26.9" lengthAdjust="spacingAndGlyphs">(14)</text>
<text x="71.59" y="398.7" fill="#9c4ec9" stroke="#9c4ec9" stroke-width="0.2" textLength="36.9" lengthAdjust="spacingAndGlyphs">62.67</text>
<text x="10.47" y="585.7" fill="#131722" stroke="#131722" stroke-width="0.2" textLength="37.9" lengthAdjust="spacingAndGlyphs">MACD</text>
<text x="53.85" y="585.7" fill="#131722" stroke="#131722" stroke-width="0.2" textLength="25.4" lengthAdjust="spacingAndGlyphs">(12,</text>
<text x="84.23" y="585.7" fill="#131722" stroke="#131722" stroke-width="0.2" textLength="21.5" lengthAdjust="spacingAndGlyphs">26,</text>
<text x="110.32" y="585.7" fill="#131722" stroke="#131722" stroke-width="0.2" textLength="39.2" lengthAdjust="spacingAndGlyphs">close,</text>
<text x="154.4" y="585.7" fill="#131722" stroke="#131722" stroke-width="0.2" textLength="13.8" lengthAdjust="spacingAndGlyphs">9)</text>
<text x="177.17" y="585.7" fill="#ff5252" stroke="#ff5252" stroke-width="0.2" textLength="35.9" lengthAdjust="spacingAndGlyphs">−0.01</text>
<text x="223.11" y="585.7" fill="#2196f3" stroke="#2196f3" stroke-width="0.2" textLength="28.8" lengthAdjust="spacingAndGlyphs">1.30</text>
<text x="261.44" y="585.7" fill="#ff6d00" stroke="#ff6d00" stroke-width="0.2" textLength="27.9" lengthAdjust="spacingAndGlyphs">1.31</text>
<path d="M0 0H1632V783H0ZM1.8 2V780.4H1630V2Z" fill="#eef0f5" fill-rule="evenodd"/>
</svg>
</body>
</html>
